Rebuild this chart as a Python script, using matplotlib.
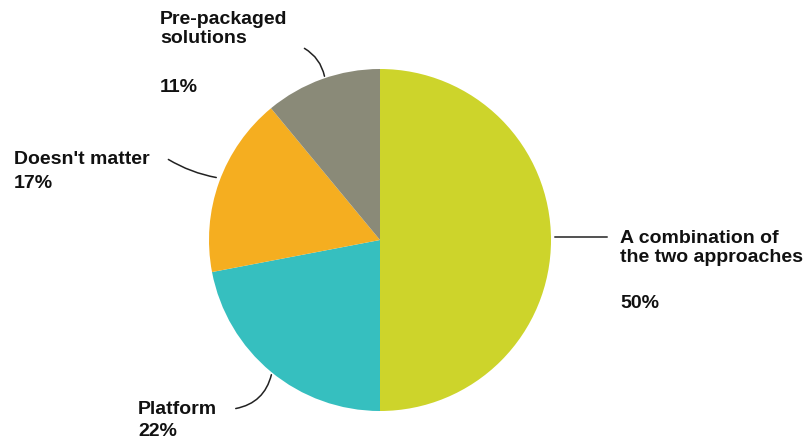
import matplotlib.pyplot as plt

labels = ['A combination of\nthe two approaches', 'Platform', "Doesn't matter", 'Pre-packaged\nsolutions']
values = [50, 22, 17, 11]
colors = ['#cdd42b', '#36bfbf', '#f5ae20', '#8a8a78']

W, H = 809, 442
fig = plt.figure(figsize=(W / 100, H / 100), dpi=100)
ax = fig.add_axes([0, 0, 1, 1])
ax.set_aspect('equal')
ax.axis('off')

# pie centre/radius in pixel units, y measured upward
ax.pie(values, colors=colors, startangle=90, counterclock=False,
       center=(380, H - 240), radius=171, wedgeprops=dict(linewidth=0))
ax.set_xlim(0, W)
ax.set_ylim(0, H)

font = dict(family='Liberation Sans', weight='bold', size=14, color='#111111')

def py(y):
    return H - y

# label text, percent text
ax.text(160, py(29), labels[3], va='center', ha='left', linespacing=1.2, **font)
ax.text(160, py(88), f'{values[3]}%', va='center', ha='left', **font)
ax.text(14, py(159), labels[2], va='center', ha='left', **font)
ax.text(14, py(184), f'{values[2]}%', va='center', ha='left', **font)
ax.text(620, py(248), labels[0], va='center', ha='left', linespacing=1.2, **font)
ax.text(620, py(303), f'{values[0]}%', va='center', ha='left', **font)
ax.text(138, py(409), labels[1], va='center', ha='left', **font)
ax.text(138, py(432), f'{values[1]}%', va='center', ha='left', **font)

# leader lines
line = dict(arrowstyle='-', color='#222222', lw=1.1)
ax.annotate('', xy=(325, py(79)), xytext=(302, py(47)),
            arrowprops=dict(connectionstyle='arc3,rad=-0.25', **line))
ax.annotate('', xy=(219, py(178)), xytext=(166, py(158)),
            arrowprops=dict(connectionstyle='arc3,rad=0.1', **line))
ax.annotate('', xy=(552, py(237)), xytext=(610, py(237)),
            arrowprops=dict(connectionstyle='arc3', **line))
ax.annotate('', xy=(272, py(372)), xytext=(233, py(409)),
            arrowprops=dict(connectionstyle='arc3,rad=0.35', **line))

fig.savefig('out.png', dpi=100, facecolor='white')
